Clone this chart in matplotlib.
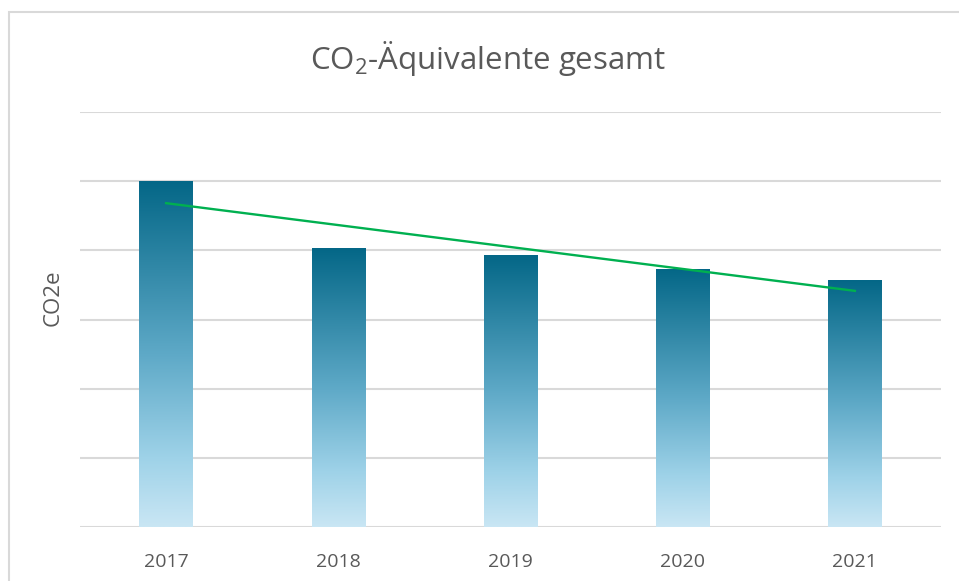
import matplotlib
matplotlib.use("Agg")
from matplotlib import pyplot as plt
from matplotlib.colors import LinearSegmentedColormap
from matplotlib.patches import Rectangle
import numpy as np

plt.rcParams['font.family'] = ['Open Sans', 'DejaVu Sans']
plt.rcParams['mathtext.default'] = 'regular'

years = ['2017', '2018', '2019', '2020', '2021']
co2e = [5.0, 4.03, 3.92, 3.72, 3.57]

text_col = '#595959'
grid_col = '#d9d9d9'

fig = plt.figure(figsize=(9.59, 5.81), dpi=100)
W, H = 959, 581
ax = fig.add_axes([80 / W, 1 - 527 / H, (941 - 80) / W, (527 - 112) / H])

# outer chart border (Excel chart area)
fig.patches.append(Rectangle((9 / W, -0.1), 1.2, 1.1 - 12 / H, transform=fig.transFigure,
                             fill=False, edgecolor=grid_col, linewidth=1.5))

cmap = LinearSegmentedColormap.from_list('bar', [(0, '#046787'), (0.5, '#5ea9c7'),
                                                 (0.8, '#9ed2e8'), (1, '#c9e6f4')])
grad = np.linspace(0, 1, 256).reshape(-1, 1)
x = np.arange(len(years))
w = 0.31
for xi, v in zip(x, co2e):
    ax.imshow(grad, cmap=cmap, aspect='auto', extent=(xi - w / 2, xi + w / 2, 0, v),
              origin='upper', zorder=2)

# linear trendline
k, d = np.polyfit(x, co2e, 1)
ax.plot(x, k * x + d, color='#00b050', linewidth=1.7, zorder=3)

ax.set_xlim(-0.5, len(years) - 0.5)
ax.set_ylim(0, 6)
ax.set_yticks(range(7))
ax.set_yticklabels([])
ax.set_xticks(x)
ax.set_xticklabels(years, fontsize=14, color=text_col)
ax.tick_params(length=0, pad=19)
ax.grid(axis='y', color=grid_col, linewidth=1.5, zorder=0)
ax.set_axisbelow(True)
for s in ax.spines.values():
    s.set_visible(False)

fig.text(53 / W, 1 - 298 / H, 'CO2e', rotation=90, ha='center', va='center',
         fontsize=16, color=text_col)
fig.text(488 / W, 1 - 58 / H, 'CO$_2$-Äquivalente gesamt', ha='center', va='center',
         fontsize=22.5, color=text_col)

fig.savefig('out.png', dpi=100)
